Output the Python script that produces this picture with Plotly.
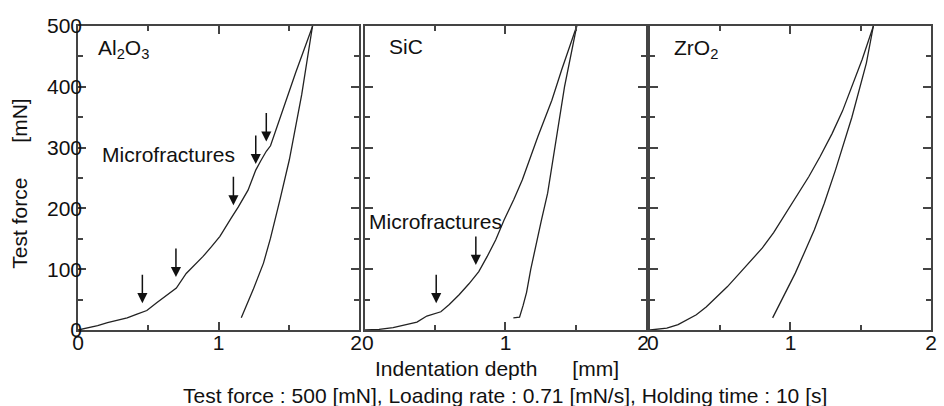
import plotly.graph_objects as go

# ---------------- data ----------------
# Al2O3
al_load_x = [0, 0.07, 0.14, 0.21, 0.28, 0.35, 0.42, 0.49, 0.56, 0.63, 0.70, 0.77, 0.84, 0.89, 0.95, 1.01,
             1.09, 1.14, 1.21, 1.265, 1.30, 1.34, 1.37, 1.45, 1.55, 1.67]
al_load_y = [0, 3, 7, 12, 16, 20, 26, 32, 45, 57, 69, 93, 109, 121, 137, 154,
             184, 202, 230, 263, 278, 294, 303, 357, 424, 500]
al_unload_x = [1.162, 1.246, 1.320, 1.370, 1.437, 1.504, 1.592, 1.669]
al_unload_y = [20, 66, 110, 151, 214, 280, 387, 500]

# SiC
sic_load_x = [0, 0.10, 0.20, 0.30, 0.37, 0.44, 0.54, 0.60, 0.67, 0.74, 0.81, 0.87, 0.93, 0.99, 1.06,
              1.12, 1.23, 1.33, 1.40, 1.507]
sic_load_y = [0, 1, 4, 9, 13, 23, 30, 42, 58, 76, 96, 121, 148, 181, 215,
              247, 318, 378, 428, 500]
sic_unload_x = [1.056, 1.10, 1.125, 1.15, 1.18, 1.215, 1.255, 1.30, 1.35, 1.42, 1.507]
sic_unload_y = [20, 21, 40, 62, 100, 140, 180, 225, 295, 400, 500]

# ZrO2
zr_load_x = [0, 0.06, 0.12, 0.20, 0.27, 0.33, 0.40, 0.45, 0.55, 0.64, 0.72, 0.80, 0.88, 0.965, 1.05,
             1.13, 1.21, 1.296, 1.37, 1.437, 1.51, 1.59]
zr_load_y = [0, 1, 3, 9, 17, 25, 38, 49, 71, 94, 114, 135, 160, 192, 222,
             252, 285, 323, 360, 400, 445, 500]
zr_unload_x = [0.873, 0.95, 1.035, 1.10, 1.17, 1.24, 1.32, 1.437, 1.54, 1.59]
zr_unload_y = [20, 55, 94, 128, 165, 208, 263, 350, 439, 500]

# microfracture arrow tips
al_arrow_x = [0.458, 0.697, 1.106, 1.265, 1.34]
al_arrow_y = [44, 87, 205, 273, 310]
sic_arrow_x = [0.507, 0.789]
sic_arrow_y = [44, 107]

panel_names = ["Al<sub>2</sub>O<sub>3</sub>", "SiC", "ZrO<sub>2</sub>"]

# ---------------- figure ----------------
FONT = "Liberation Sans, Arial, sans-serif"
TXT = "#111111"
AX = "#444444"
LINE = "#222222"
FS = 21

fig = go.Figure()
panels = [
    (al_load_x, al_load_y, al_unload_x, al_unload_y),
    (sic_load_x, sic_load_y, sic_unload_x, sic_unload_y),
    (zr_load_x, zr_load_y, zr_unload_x, zr_unload_y),
]


def ax_id(n):
    return "" if n == 1 else str(n)


for i, (lx, ly, ux, uy) in enumerate(panels):
    xa = "x" + ax_id(i + 1)
    ya = "y" + ax_id(i + 1)
    for xs, ys in ((lx, ly), (ux, uy)):
        fig.add_trace(go.Scatter(x=xs, y=ys, mode="lines", xaxis=xa, yaxis=ya,
                                 line=dict(color=LINE, width=1.3), showlegend=False,
                                 hoverinfo="skip"))

W, H = 944, 406
L, R, T, B = 78, 4, 26, 76
pw = W - L - R
doms = [(0, 284 / pw), (290 / pw, 574 / pw), (578 / pw, 1.0)]
nb = "\u00a0"
aliases = [
    {"2": "2" + nb},
    {"0": nb + "0", "2": "2" + nb},
    {"0": nb + "0"},
]

axis_common = dict(showline=True, linecolor=AX, linewidth=1.6, mirror="ticks",
                   ticks="inside", ticklen=8, tickwidth=1.6, tickcolor=AX,
                   showgrid=False, zeroline=False,
                   tickfont=dict(family=FONT, size=FS, color=TXT))
layout = dict(width=W, height=H, margin=dict(l=L, r=R, t=T, b=B),
              paper_bgcolor="white", plot_bgcolor="white", showlegend=False,
              font=dict(family=FONT, size=FS, color=TXT))
for i in range(3):
    n = i + 1
    xa, ya = "x" + ax_id(n), "y" + ax_id(n)
    layout["xaxis" + ax_id(n)] = dict(axis_common, domain=list(doms[i]), range=[0, 2], anchor=ya,
                                      dtick=1, labelalias=aliases[i], ticklabelstandoff=-7,
                                      minor=dict(ticks="inside", ticklen=5, tickwidth=1.6,
                                                 tickcolor=AX, dtick=0.5))
    layout["yaxis" + ax_id(n)] = dict(axis_common, domain=[0, 1], range=[0, 500], anchor=xa,
                                      dtick=100, showticklabels=(i == 0), ticklabelstandoff=-10,
                                      minor=dict(ticks="inside", ticklen=5, tickwidth=1.6,
                                                 tickcolor=AX, dtick=50))
fig.update_layout(**layout)

# panel labels
label_pos = [(0.13, 462), (0.16, 466), (0.16, 463)]
for i, name in enumerate(panel_names):
    fig.add_annotation(x=label_pos[i][0], y=label_pos[i][1], xref="x" + ax_id(i + 1),
                       yref="y" + ax_id(i + 1),
                       text=name, showarrow=False, xanchor="left", yanchor="middle",
                       font=dict(family=FONT, size=FS, color=TXT))

# "Microfractures" labels
fig.add_annotation(x=0.155, y=288, xref="x", yref="y", text="Microfractures",
                   showarrow=False, xanchor="left", yanchor="middle",
                   font=dict(family=FONT, size=FS, color=TXT))
fig.add_annotation(x=0.014, y=178, xref="x2", yref="y2", text="Microfractures",
                   showarrow=False, xanchor="left", yanchor="middle",
                   font=dict(family=FONT, size=FS, color=TXT))

# arrows
for xs, ys, xa, ya in ((al_arrow_x, al_arrow_y, "x", "y"), (sic_arrow_x, sic_arrow_y, "x2", "y2")):
    for ax_, ay_ in zip(xs, ys):
        fig.add_annotation(x=ax_, y=ay_, xref=xa, yref=ya, text="", showarrow=True,
                           ax=0, ay=-30, arrowhead=2, arrowsize=1.35, arrowwidth=1.5,
                           arrowcolor="#111111", standoff=0)

# axis titles and bottom caption
fig.add_annotation(x=-0.0696, y=0.48, xref="paper", yref="paper",
                   text="Test force" + nb * 6 + "[mN]", textangle=-90, showarrow=False,
                   xanchor="center", yanchor="middle",
                   font=dict(family=FONT, size=FS, color=TXT))
fig.add_annotation(x=0.4915, y=-0.128, xref="paper", yref="paper",
                   text="Indentation depth" + nb * 6 + "[mm]", showarrow=False,
                   xanchor="center", yanchor="middle",
                   font=dict(family=FONT, size=FS, color=TXT))
fig.add_annotation(x=0.5, y=-0.2155, xref="paper", yref="paper",
                   text="Test force : 500 [mN], Loading rate : 0.71 [mN/s], Holding time : 10 [s]",
                   showarrow=False, xanchor="center", yanchor="middle",
                   font=dict(family=FONT, size=FS, color=TXT))

fig.write_html("out.html")
